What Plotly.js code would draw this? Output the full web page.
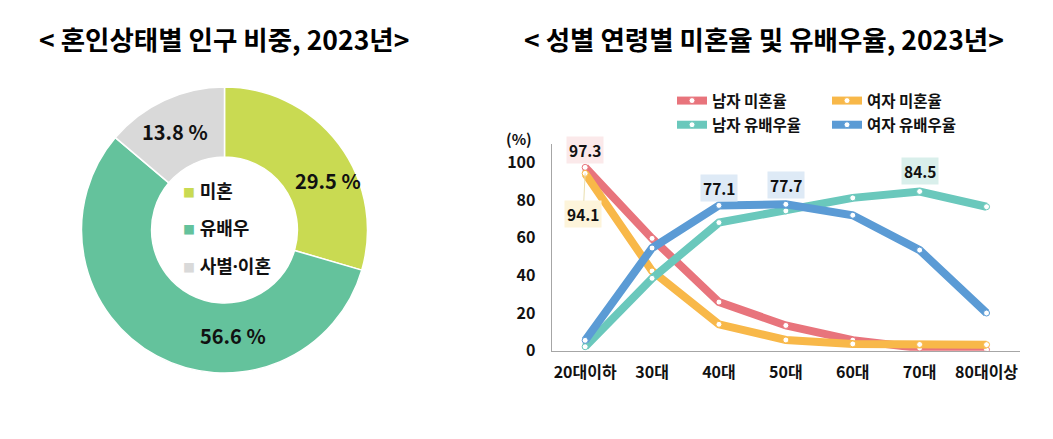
<!DOCTYPE html>
<html>
<head>
<meta charset="utf-8">
<script src="https://cdn.plot.ly/plotly-3.0.1.min.js"></script>
<style>html,body{margin:0;padding:0;background:#fff;}#chart{width:1053px;height:439px;}</style>
</head>
<body>
<div id="chart"></div>
<script>
// ---- Data ----
const statusLabels = ['미혼', '유배우', '사별·이혼'];
const statusShares = [29.5, 56.6, 13.8];

const ageGroups = ['20대이하', '30대', '40대', '50대', '60대', '70대', '80대이상'];
const maleSingle = [97.3, 59.6, 25.8, 13.4, 5.6, 1.4, 0.5];
const femaleSingle = [94.1, 42.3, 14.0, 5.7, 3.6, 3.3, 3.2];
const maleMarried = [2.1, 38.4, 68.0, 74.2, 81.1, 84.5, 76.4];
const femaleMarried = [5.5, 54.5, 77.1, 77.7, 71.9, 53.4, 20.0];
const seriesNames = ['남자 미혼율', '여자 미혼율', '남자 유배우율', '여자 유배우율'];
const yTicks = [0, 20, 40, 60, 80, 100];

// ---- Styles ----
const FONT = '"Noto Sans CJK KR", "Noto Sans", sans-serif';
const FONT_LATIN_FIRST = '"Noto Sans", "Noto Sans CJK KR", sans-serif';
const W = 1053, H = 439;
const px = x => x / W;
const py = y => 1 - y / H;
const pieColors = ['#c9da52', '#64c29c', '#d9d9d9'];
const lineColors = ['#e8747c', '#f8b849', '#6ac8bc', '#5b9bd5'];

const pie = {
  type: 'pie', labels: statusLabels, values: statusShares, sort: false,
  direction: 'clockwise', rotation: 0, hole: 0.51,
  marker: {colors: pieColors, line: {color: '#ffffff', width: 1.5}},
  textinfo: 'none', showlegend: false, hoverinfo: 'label+value',
  domain: {x: [px(81.5), px(367.5)], y: [py(373), py(87)]}
};

const seriesData = [maleSingle, femaleSingle, maleMarried, femaleMarried];
const legendIds = ['legend2', 'legend3', 'legend2', 'legend3'];
const lines = seriesData.map((vals, i) => ({
  type: 'scatter', mode: 'lines+markers', x: ageGroups, y: vals, name: seriesNames[i],
  line: {color: lineColors[i], width: 8},
  marker: {color: '#ffffff', size: 6, line: {color: lineColors[i], width: 1}},
  legend: legendIds[i], legendgroup: 'g' + i,
  xaxis: 'x', yaxis: 'y'
}));

// pie % labels (positioned inside their slices)
const pieLabelPos = [[328, 180], [233, 335], [175, 131]];
const annotations = [];
statusShares.forEach((v, i) => {
  annotations.push({xref: 'paper', yref: 'paper', x: px(pieLabelPos[i][0]), y: py(pieLabelPos[i][1]),
    text: v.toFixed(1) + ' %', showarrow: false, xanchor: 'center', yanchor: 'middle',
    font: {family: FONT, size: 20, weight: 'bold', color: '#111'}});
});
// pie legend inside the hole
const pieLegendY = [191, 228, 266];
statusLabels.forEach((lab, i) => {
  annotations.push({xref: 'paper', yref: 'paper', x: px(181), y: py(pieLegendY[i]),
    text: '<span style="color:' + pieColors[i] + ';font-size:12px">■</span> ' + lab,
    showarrow: false, xanchor: 'left', yanchor: 'middle',
    font: {family: FONT_LATIN_FIRST, size: 18, weight: 'bold', color: '#111'}});
});
// titles
annotations.push({xref: 'paper', yref: 'paper', x: px(224), y: py(38), text: '< 혼인상태별 인구 비중, 2023년>',
  showarrow: false, xanchor: 'center', yanchor: 'middle', font: {family: FONT, size: 26.5, weight: 'bold', color: '#000'}});
annotations.push({xref: 'paper', yref: 'paper', x: px(764), y: py(38), text: '< 성별 연령별 미혼율 및 유배우율, 2023년>',
  showarrow: false, xanchor: 'center', yanchor: 'middle', font: {family: FONT, size: 26.5, weight: 'bold', color: '#000'}});
// unit
annotations.push({xref: 'paper', yref: 'paper', x: px(519), y: py(138), text: '(%)', showarrow: false,
  xanchor: 'center', yanchor: 'middle', font: {family: FONT, size: 15, weight: 'bold', color: '#111'}});

// data labels on the line chart
const lblFont = {family: FONT, size: 15.5, weight: 'bold', color: '#111'};
annotations.push({x: ageGroups[0], y: maleSingle[0], text: maleSingle[0].toFixed(1), showarrow: false,
  yshift: 17, bgcolor: '#fbe9ea', borderpad: 2, font: lblFont});
annotations.push({x: ageGroups[0], y: femaleSingle[0], text: femaleSingle[0].toFixed(1), showarrow: true,
  ax: -2, ay: 41, arrowhead: 0, arrowwidth: 1, arrowcolor: '#eadfae', bgcolor: '#fdf4da', borderpad: 2, font: lblFont});
annotations.push({x: ageGroups[2], y: femaleMarried[2], text: femaleMarried[2].toFixed(1), showarrow: false,
  yshift: 17, bgcolor: '#deeaf6', borderpad: 2, font: lblFont});
annotations.push({x: ageGroups[3], y: femaleMarried[3], text: femaleMarried[3].toFixed(1), showarrow: false,
  yshift: 19, bgcolor: '#deeaf6', borderpad: 2, font: lblFont});
annotations.push({x: ageGroups[5], y: maleMarried[5], text: maleMarried[5].toFixed(1), showarrow: false,
  yshift: 20, bgcolor: '#d9efeb', borderpad: 2, font: lblFont});

const legendCommon = {orientation: 'v', bgcolor: 'rgba(0,0,0,0)', tracegroupgap: 1,
  font: {family: FONT, size: 15.5, weight: 'bold', color: '#111'}, xanchor: 'left', yanchor: 'top', itemwidth: 30};

const layout = {
  width: W, height: H, margin: {l: 0, r: 0, t: 0, b: 0},
  paper_bgcolor: '#ffffff', plot_bgcolor: '#ffffff',
  font: {family: FONT},
  showlegend: true,
  legend2: Object.assign({}, legendCommon, {x: px(672), y: py(84)}),
  legend3: Object.assign({}, legendCommon, {x: px(827), y: py(84)}),
  xaxis: {domain: [px(551.7), px(1020)], type: 'category', range: [-0.5, 6.5], showgrid: false, zeroline: false,
    showline: true, linecolor: '#a6a6a6', linewidth: 1, ticks: '', ticklabelstandoff: 7,
    tickfont: {family: FONT, size: 16, weight: 'bold', color: '#111'}, fixedrange: true},
  yaxis: {domain: [py(350.7), py(144)], range: [0, 109.7], tickvals: yTicks, showgrid: false, zeroline: false,
    showline: true, linecolor: '#a6a6a6', linewidth: 1, ticks: '', ticklabelstandoff: 12,
    tickfont: {family: FONT, size: 16, weight: 'bold', color: '#111'}, fixedrange: true},
  annotations: annotations
};

Plotly.newPlot('chart', [pie].concat(lines), layout, {displayModeBar: false, staticPlot: true});
</script>
</body>
</html>
